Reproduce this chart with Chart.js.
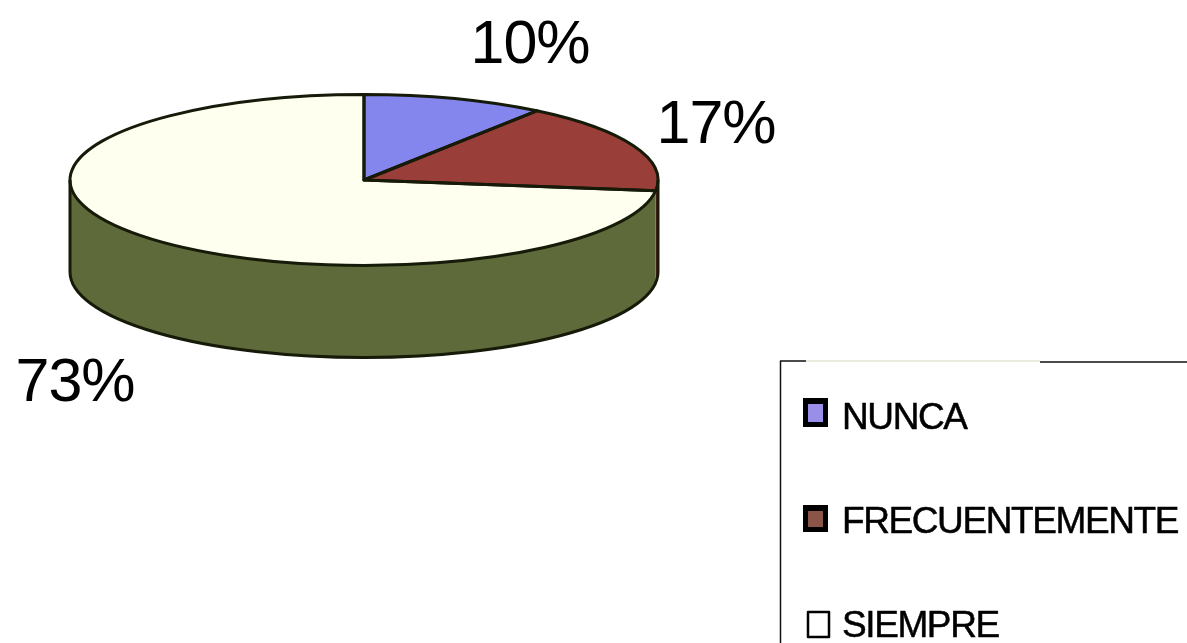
<!DOCTYPE html>
<html>
<head>
<meta charset="utf-8">
<title>Pie</title>
<script src="https://cdn.jsdelivr.net/npm/chart.js@4"></script>
<style>
  html, body { margin: 0; padding: 0; background: #fff; overflow: hidden; }
  #wrap { width: 1187px; height: 643px; }
</style>
</head>
<body>
<div id="wrap"><canvas id="pie" width="1187" height="643"></canvas></div>
<script>
const categories = ['NUNCA', 'FRECUENTEMENTE', 'SIEMPRE'];
const values = [10, 17, 73];

const topColors = ['#8585ee', '#993e38', '#fffff0'];
const wallColors = ['#4b4b8c', '#6a2a26', '#5f6a3a'];
const swatchColors = ['#9a8fe8', '#8a5548', '#fff'];

// the pie is a circle for the library, squashed here to look tilted
const RX = 294;
const RY = 85.5;
const DEPTH = 92;
const OUTLINE = '#161a08';
const FONT = '"Liberation Sans", Arial, sans-serif';

// where the big % labels sit, same order as categories
const labelSpots = [[530, 63], [716, 143], [75, 401]];

function arcs(chart) {
  return chart.getDatasetMeta(0).data;
}

const tiltPlugin = {
  id: 'tilt',
  beforeDatasetsDraw(chart) {
    const ctx = chart.ctx;
    arcs(chart).forEach((a, i) => {
      // only the front half of the rim can be seen
      const from = Math.max(a.startAngle, 0);
      const to = Math.min(a.endAngle, Math.PI);
      if (to <= from) return;
      ctx.beginPath();
      ctx.ellipse(a.x, a.y, RX, RY, 0, from, to);
      ctx.ellipse(a.x, a.y + DEPTH, RX, RY, 0, to, from, true);
      ctx.closePath();
      ctx.fillStyle = wallColors[i];
      ctx.fill();
    });
    const c = arcs(chart)[0];
    ctx.save();
    ctx.translate(0, c.y);
    ctx.scale(1, RY / RX);
    ctx.translate(0, -c.y);
  },
  afterDatasetsDraw(chart) {
    const ctx = chart.ctx;
    ctx.restore();
    ctx.strokeStyle = OUTLINE;
    ctx.lineWidth = 3;
    ctx.lineJoin = 'round';

    const first = arcs(chart)[0];
    // rim
    ctx.beginPath();
    ctx.moveTo(first.x + RX, first.y);
    ctx.lineTo(first.x + RX, first.y + DEPTH);
    ctx.ellipse(first.x, first.y + DEPTH, RX, RY, 0, 0, Math.PI);
    ctx.lineTo(first.x - RX, first.y);
    ctx.stroke();

    // top face, slice by slice
    arcs(chart).forEach(a => {
      ctx.beginPath();
      ctx.moveTo(a.x, a.y);
      ctx.ellipse(a.x, a.y, RX, RY, 0, a.startAngle, a.endAngle);
      ctx.closePath();
      ctx.stroke();
    });

    // big labels
    ctx.fillStyle = '#000';
    ctx.font = '61px ' + FONT;
    ctx.letterSpacing = '-1px';
    ctx.textAlign = 'center';
    ctx.textBaseline = 'alphabetic';
    values.forEach((v, i) => {
      ctx.fillText(v + '%', labelSpots[i][0], labelSpots[i][1]);
    });

    drawLegend(ctx);
  }
};

function drawLegend(ctx) {
  // box runs off the page on the right and bottom, top edge is washed out in the middle
  ctx.strokeStyle = '#111';
  ctx.lineWidth = 1.5;
  ctx.beginPath();
  ctx.moveTo(1187, 362);
  ctx.lineTo(1040, 362);
  ctx.moveTo(806, 361);
  ctx.lineTo(780.5, 361);
  ctx.lineTo(780.5, 643);
  ctx.stroke();
  ctx.strokeStyle = '#e4e4d2';
  ctx.beginPath();
  ctx.moveTo(806, 361);
  ctx.lineTo(1040, 361);
  ctx.stroke();

  ctx.textAlign = 'left';
  ctx.font = '37px ' + FONT;
  ctx.letterSpacing = '-1.4px';
  categories.forEach((name, i) => {
    const base = 429 + i * 104;
    if (i < 2) {
      const top = i === 0 ? 398 : 505;
      const h = i === 0 ? 29 : 27;
      ctx.fillStyle = '#000';
      ctx.fillRect(803, top, 25, h);
      ctx.fillStyle = swatchColors[i];
      ctx.fillRect(808, top + 6, 15, h - 11);
    } else {
      ctx.fillStyle = swatchColors[i];
      ctx.strokeStyle = '#000';
      ctx.lineWidth = 2.5;
      ctx.fillRect(808, base - 25, 21, 25);
      ctx.strokeRect(808, base - 25, 21, 25);
    }
    // source text is scanned and looks heavier than a plain regular weight
    ctx.fillStyle = '#000';
    ctx.strokeStyle = '#000';
    ctx.lineWidth = 0.5;
    ctx.fillText(name, 842, base);
    ctx.strokeText(name, 842, base);
  });
  ctx.letterSpacing = '0px';
}

new Chart(document.getElementById('pie'), {
  type: 'pie',
  data: {
    labels: categories,
    datasets: [{
      data: values,
      backgroundColor: topColors,
      borderWidth: 0,
      clip: false
    }]
  },
  options: {
    responsive: false,
    animation: false,
    radius: RX,
    // leaves the chart area centred on the pie
    layout: { padding: { left: 0, top: 0, right: 459, bottom: 283 } },
    plugins: { legend: { display: false }, tooltip: { enabled: false } }
  },
  plugins: [tiltPlugin]
});
</script>
</body>
</html>
